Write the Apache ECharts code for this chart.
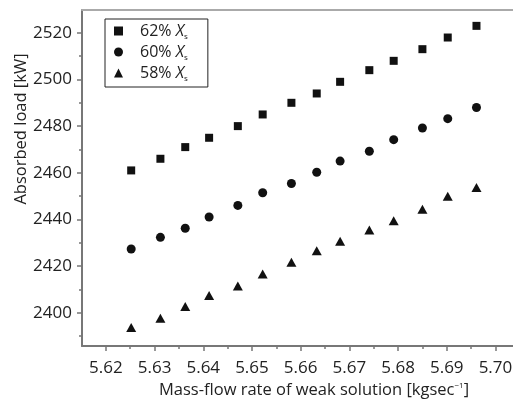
<!DOCTYPE html>
<html>
<head>
<meta charset="utf-8">
<script src="https://cdn.jsdelivr.net/npm/echarts@6/dist/echarts.min.js"></script>
<style>
html,body{margin:0;padding:0;background:#fff;}
#c{width:513px;height:403px;}
</style>
</head>
<body>
<div id="c"></div>
<script>
var massFlow = [5.6252, 5.6312, 5.6363, 5.6412, 5.6471, 5.6522, 5.6581, 5.6633, 5.6681, 5.6741, 5.6791, 5.6850, 5.6902, 5.6961];
var load62 = [2461, 2466, 2471, 2475, 2480, 2485, 2490, 2494, 2499, 2504, 2508, 2513, 2518, 2523];
var load60 = [2427.3, 2432.3, 2436.2, 2441, 2446, 2451.4, 2455.4, 2460.2, 2465, 2469.2, 2474.2, 2479.2, 2483.2, 2488];
var load58 = [2393.6, 2397.6, 2402.6, 2407.4, 2411.4, 2416.6, 2421.6, 2426.5, 2430.6, 2435.4, 2439.4, 2444.4, 2449.9, 2453.7];
var seriesNames = ['62% Xs', '60% Xs', '58% Xs'];
var xTickLabels = [5.62, 5.63, 5.64, 5.65, 5.66, 5.67, 5.68, 5.69, 5.70];
var xMinorTicks = [5.625, 5.635, 5.645, 5.655, 5.665, 5.675, 5.685, 5.695];
var yTickLabels = [2400, 2420, 2440, 2460, 2480, 2500, 2520];
var yMinorTicks = [2390, 2410, 2430, 2450, 2470, 2490, 2510];

function pairs(xs, ys){ return xs.map(function(x,i){ return [x, ys[i]]; }); }

var FONT = 'Open Sans';
var X_MIN = 5.6151, X_MAX = 5.7036, Y_MIN = 2385.7, Y_MAX = 2529.8;
var AX = '#777';
var chart = echarts.init(document.getElementById('c'), null, {renderer:'canvas'});
var option = {
  animation: false,
  backgroundColor: '#fff',
  textStyle: {fontFamily: FONT},
  grid: {left: 82, top: 10, right: 0, bottom: 57, containLabel: false, outerBoundsMode: 'none'},
  legend: {
    orient: 'vertical',
    left: 105, top: 19,
    padding: [2, 20, 4, 9],
    borderColor: '#222', borderWidth: 1,
    itemWidth: 9, itemHeight: 9, itemGap: 1,
    data: seriesNames,
    formatter: function(n){ return n.replace(' Xs', ' {x|X}{s|s}'); },
    textStyle: {
      fontFamily: FONT, fontSize: 16, color: '#222', lineHeight: 20,
      padding: [0,0,0,12],
      rich: {
        x: {fontFamily: FONT, fontSize: 16, fontStyle: 'italic', color: '#222', lineHeight: 20},
        s: {fontFamily: FONT, fontSize: 8, color: '#222', verticalAlign: 'bottom', lineHeight: 20, padding: [6,0,0,0]}
      }
    }
  },
  xAxis: [{
    type: 'value',
    min: X_MIN, max: X_MAX,
    name: 'Mass-flow rate of weak solution [kgsec{sup|\u22121}]',
    nameLocation: 'middle', nameGap: 36,
    nameTextStyle: {
      fontFamily: FONT, fontSize: 16.5, color: '#222', padding: [0,0,0,33],
      rich: {sup: {fontFamily: FONT, fontSize: 8, color: '#222', verticalAlign: 'top', padding: [0,0,8,0]}}
    },
    axisLine: {show: true, onZero: false, lineStyle: {color: AX, width: 2}},
    axisTick: {show: true, inside: false, length: 5, customValues: xTickLabels, lineStyle: {color: AX, width: 1.5}},
    axisLabel: {
      fontFamily: FONT, fontSize: 17, color: '#222', margin: 14,
      customValues: xTickLabels,
      formatter: function(v){ return v.toFixed(2); }
    },
    splitLine: {show: false}
  }, {
    type: 'value', position: 'bottom',
    min: X_MIN, max: X_MAX,
    axisLine: {show: false, onZero: false},
    axisTick: {show: true, inside: false, length: 3, customValues: xMinorTicks, lineStyle: {color: AX, width: 1.5}},
    axisLabel: {show: false}, splitLine: {show: false}
  }, {
    type: 'value', position: 'top',
    min: X_MIN, max: X_MAX,
    axisLine: {show: true, onZero: false, lineStyle: {color: '#aaa', width: 2}},
    axisTick: {show: false}, axisLabel: {show: false}, splitLine: {show: false}
  }],
  yAxis: [{
    type: 'value',
    min: Y_MIN, max: Y_MAX,
    name: 'Absorbed load [kW]',
    nameLocation: 'middle', nameGap: 52, nameMoveOverlap: false,
    nameTextStyle: {fontFamily: FONT, fontSize: 16.5, color: '#222', padding: [0,0,0,98]},
    axisLine: {show: true, onZero: false, lineStyle: {color: AX, width: 2}},
    axisTick: {show: true, inside: false, length: 5, customValues: yTickLabels, lineStyle: {color: AX, width: 1.5}},
    axisLabel: {
      fontFamily: FONT, fontSize: 17, color: '#222', margin: 10,
      customValues: yTickLabels,
      formatter: function(v){ return String(Math.round(v)); }
    },
    splitLine: {show: false}
  }, {
    type: 'value', position: 'left',
    min: Y_MIN, max: Y_MAX,
    axisLine: {show: false, onZero: false},
    axisTick: {show: true, inside: false, length: 3, customValues: yMinorTicks, lineStyle: {color: AX, width: 1.5}},
    axisLabel: {show: false}, splitLine: {show: false}
  }],
  series: [
    {name: seriesNames[0], type: 'scatter', symbol: 'rect', symbolSize: 8, itemStyle: {color: '#111', opacity: 1}, data: pairs(massFlow, load62)},
    {name: seriesNames[1], type: 'scatter', symbol: 'circle', symbolSize: 9, itemStyle: {color: '#111', opacity: 1}, data: pairs(massFlow, load60)},
    {name: seriesNames[2], type: 'scatter', symbol: 'triangle', symbolSize: [10, 9], itemStyle: {color: '#111', opacity: 1}, data: pairs(massFlow, load58)}
  ]
};
chart.setOption(option);
</script>
</body>
</html>
